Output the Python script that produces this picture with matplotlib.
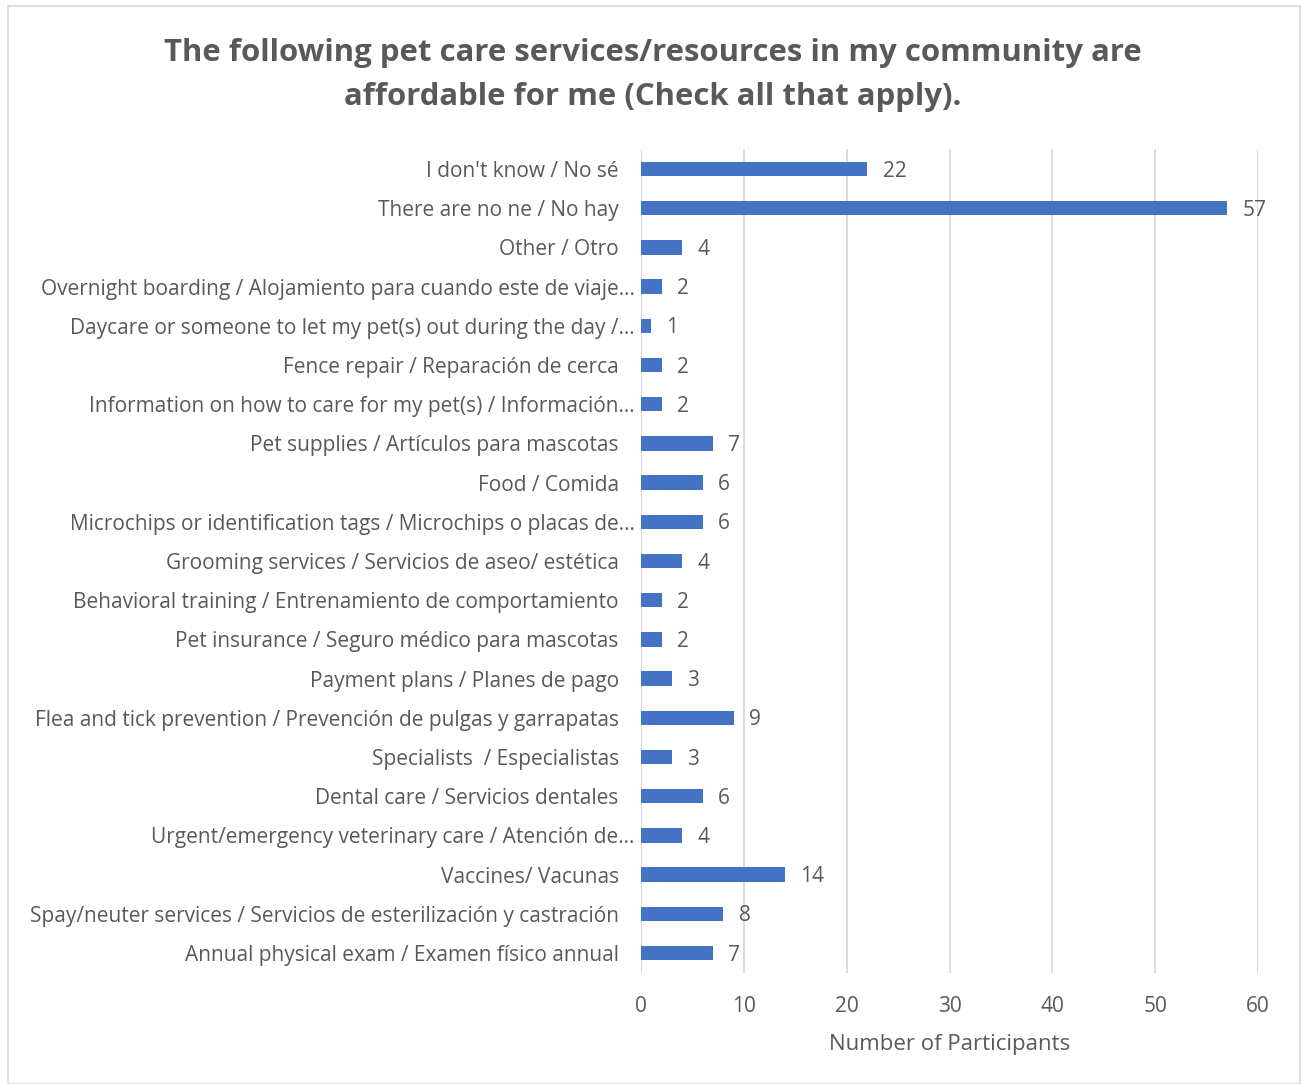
import numpy as np
import matplotlib
matplotlib.use('Agg')
import matplotlib.pyplot as plt
from matplotlib.patches import Rectangle
from matplotlib.transforms import ScaledTranslation

categories = [
    "I don't know / No sé",
    "There are no ne / No hay",
    "Other / Otro",
    "Overnight boarding / Alojamiento para cuando este de viaje…",
    "Daycare or someone to let my pet(s) out during the day /…",
    "Fence repair / Reparación de cerca",
    "Information on how to care for my pet(s) / Información…",
    "Pet supplies / Artículos para mascotas",
    "Food / Comida",
    "Microchips or identification tags / Microchips o placas de…",
    "Grooming services / Servicios de aseo/ estética",
    "Behavioral training / Entrenamiento de comportamiento",
    "Pet insurance / Seguro médico para mascotas",
    "Payment plans / Planes de pago",
    "Flea and tick prevention / Prevención de pulgas y garrapatas",
    "Specialists  / Especialistas",
    "Dental care / Servicios dentales",
    "Urgent/emergency veterinary care / Atención de…",
    "Vaccines/ Vacunas",
    "Spay/neuter services / Servicios de esterilización y castración",
    "Annual physical exam / Examen físico annual",
]
counts = [22, 57, 4, 2, 1, 2, 2, 7, 6, 6, 4, 2, 2, 3, 9, 3, 6, 4, 14, 8, 7]
xticks = [0, 10, 20, 30, 40, 50, 60]

TXT = '#595959'
BAR = '#4472C4'
GRID = '#D9D9D9'
plt.rcParams['font.family'] = ['Open Sans', 'DejaVu Sans']

fig = plt.figure(figsize=(13.02, 10.84), dpi=100)
fig.patches.append(Rectangle((8/1302, 0.0), 1292/1302, 1-6/1084, transform=fig.transFigure,
                             fill=False, edgecolor=GRID, lw=1.2))
ax = fig.add_axes([641/1302, 1-972.6/1084, 617/1302, (972.6-149.4)/1084])

y = np.arange(len(categories))
ax.barh(y, counts, height=0.37, color=BAR)
for yi, v in zip(y, counts):
    ax.annotate(str(v), (v, yi), xytext=(11, -1.5), textcoords='offset points',
                va='center', ha='left', fontsize=15, color=TXT)

ax.set_ylim(len(categories) - 0.5, -0.5)
ax.set_xlim(0, 60)
ax.set_xticks(xticks)
ax.set_yticks(y)
ax.set_yticklabels(categories)
ax.tick_params(axis='y', length=0, pad=16, labelsize=15, labelcolor=TXT)
ax.tick_params(axis='x', length=0, pad=17, labelsize=15, labelcolor=TXT)
# truncated labels run closer to the axis
for lab in ax.get_yticklabels():
    if lab.get_text().endswith('…'):
        lab.set_transform(lab.get_transform() + ScaledTranslation(0.16, 0, fig.dpi_scale_trans))
ax.grid(axis='x', color=GRID, lw=1.3)
ax.set_axisbelow(True)
for s in ax.spines.values():
    s.set_visible(False)
ax.set_xlabel('Number of Participants', fontsize=16, color=TXT, labelpad=12)

fig.text(653/1302, 1-75/1084,
         'The following pet care services/resources in my community are\naffordable for me (Check all that apply).',
         ha='center', va='center', fontsize=22.4, fontweight='bold', color=TXT, linespacing=1.62)

fig.savefig('out.png', dpi=100)
